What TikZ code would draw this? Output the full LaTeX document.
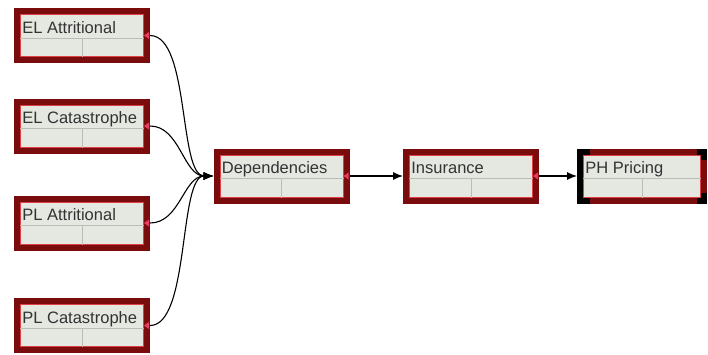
\documentclass[tikz,border=0pt]{standalone}
\usepackage{fontspec}
\setmainfont{Liberation Sans}
\usetikzlibrary{arrows.meta,positioning}
\definecolor{boxred}{RGB}{122,12,14}
\definecolor{edgered}{RGB}{222,64,70}
\definecolor{cellgrey}{RGB}{229,231,225}
\definecolor{gridgrey}{RGB}{186,188,182}
\definecolor{portred}{RGB}{232,60,96}

\begin{document}
\begin{tikzpicture}[x=1pt,y=-1pt,thick]
\tikzstyle{module}=[draw=boxred,line width=6pt,fill=cellgrey,minimum width=130pt,minimum height=49pt,inner sep=0pt,
  path picture={
    \draw[edgered,line width=0.8pt] ([shift={(3.4pt,-3.4pt)}]path picture bounding box.north west) rectangle ([shift={(-3.4pt,3.4pt)}]path picture bounding box.south east);
    \draw[gridgrey,line width=0.6pt] ([yshift=-27pt]path picture bounding box.north west) -- ([yshift=-27pt]path picture bounding box.north east);
    \draw[gridgrey,line width=0.6pt] ([yshift=-27pt]path picture bounding box.north) -- (path picture bounding box.south);
  }]
\tikzstyle{modtext}=[anchor=base west,inner sep=0pt,xshift=8pt,yshift=-25pt,text=black!80,font=\fontsize{16.5}{19}\selectfont]
\tikzstyle{link}=[black,line width=1.1pt,-{Latex[length=10pt,width=8pt]}]
\useasboundingbox (0,0) rectangle (708,354);

% risk sources
\node [module,label={[modtext]north west:EL Attritional}] (ela) at (82,35.5) {};
\node [module,label={[modtext]north west:EL Catastrophe}] (elc) at (82,126) {};
\node [module,label={[modtext]north west:PL Attritional}] (pla) at (82,223) {};
\node [module,label={[modtext]north west:PL Catastrophe}] (plc) at (82,325.5) {};

% chain
\node [module,label={[modtext]north west:Dependencies}] (dep) at (281.5,176) {};
\node [module,label={[modtext]north west:Insurance}] (ins) at (471,176) {};
\node [module,minimum width=124pt,label={[modtext]north west:PH Pricing}] (php) at (642,176) {};

% selection marks
\draw[black,line width=6pt] ([shift={(13pt,-3pt)}]php.north west) -| ([shift={(3pt,3pt)}]php.south west) -- ++(10pt,0pt);
\draw[black,line width=6pt] ([shift={(-10pt,-3pt)}]php.north east) -| ++(7pt,-8pt);
\draw[black,line width=6pt] ([shift={(-10pt,3pt)}]php.south east) -| ++(7pt,8pt);

% output ports
\foreach \n in {ela,elc,pla,plc,dep,ins}
  \fill[portred] ([xshift=-6pt]\n.east) -- ++(5pt,3.5pt) -- ++(0pt,-7pt) -- cycle;

\draw[link] (ela.east) .. controls +(40,0) and +(-35,0) .. (dep.west);
\draw[link] (elc.east) .. controls +(30,0) and +(-30,0) .. (dep.west);
\draw[link] (pla.east) .. controls +(30,0) and +(-30,0) .. (dep.west);
\draw[link] (plc.east) .. controls +(40,0) and +(-35,0) .. (dep.west);
\draw[link] (dep.east) -- (ins.west);
\draw[link] (ins.east) -- (php.west);
\end{tikzpicture}
\end{document}
